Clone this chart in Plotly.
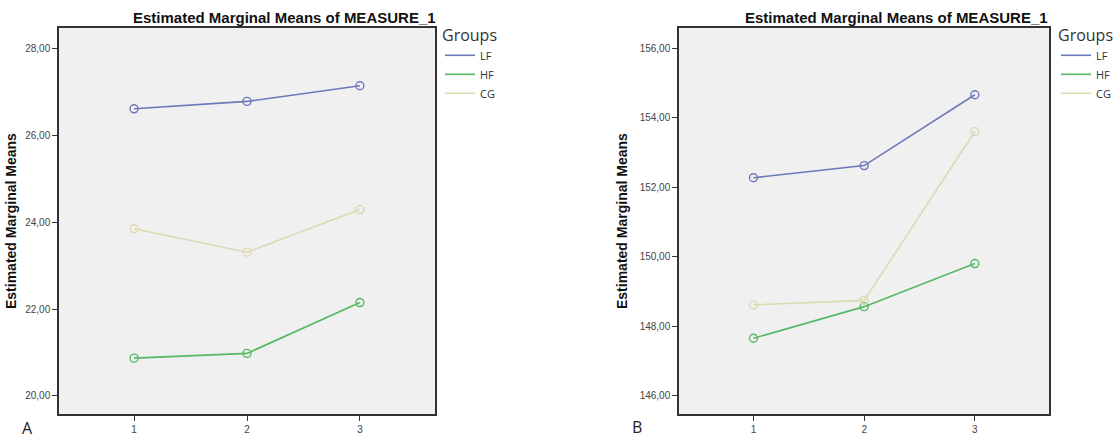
import plotly.graph_objects as go

# ---- data ----
time_points = [1, 2, 3]
groups = ["LF", "HF", "CG"]

# Panel A
a_lf = [26.61, 26.78, 27.14]
a_hf = [20.87, 20.98, 22.15]
a_cg = [23.85, 23.31, 24.29]
a_ticks = [20, 22, 24, 26, 28]

# Panel B
b_lf = [152.27, 152.62, 154.66]
b_hf = [147.65, 148.56, 149.80]
b_cg = [148.61, 148.74, 153.60]
b_ticks = [146, 148, 150, 152, 154, 156]

panel_labels = ["A", "B"]
title_text = "Estimated Marginal Means of MEASURE_1"
ytitle_text = "Estimated Marginal Means"
legend_title = "Groups"

colors = {"LF": "#6b78ba", "HF": "#55b865", "CG": "#dcd9b2"}

W, H = 1120, 441
def px_x(p):
    return p / W
def px_y(p):
    return (H - p) / H

fig = go.Figure()

panels = [
    ("x", "y", "legend", {"LF": a_lf, "HF": a_hf, "CG": a_cg}),
    ("x2", "y2", "legend2", {"LF": b_lf, "HF": b_hf, "CG": b_cg}),
]

for xa, ya, lg, series in panels:
    for g in groups:
        fig.add_trace(go.Scatter(
            x=time_points, y=series[g], xaxis=xa, yaxis=ya,
            mode="lines+markers", name=g, showlegend=False,
            line=dict(color=colors[g], width=1.6),
            marker=dict(symbol="circle-open", size=8,
                        line=dict(color=colors[g], width=1.4)),
            hoverinfo="x+y+name",
        ))
    for g in groups:
        fig.add_trace(go.Scatter(
            x=[None], y=[None], xaxis=xa, yaxis=ya, mode="lines", name=g,
            legend=lg, line=dict(color=colors[g], width=1.6), showlegend=True,
        ))

tickfont = dict(family="Liberation Sans, Arial, sans-serif", size=10, color="#444")
axis_common = dict(
    showgrid=False, zeroline=False, showline=True, linecolor="#333",
    linewidth=1.5, mirror=True, ticks="outside", ticklen=5, tickwidth=1.2,
    tickcolor="#333", tickfont=tickfont,
)

x1_dom = [px_x(59), px_x(435)]
x2_dom = [px_x(679), px_x(1049)]
y_dom = [px_y(414), px_y(28)]

legend_common = dict(
    xanchor="left", yanchor="top", bgcolor="rgba(0,0,0,0)",
    title=dict(text=legend_title, font=dict(family="Open Sans, sans-serif", size=16, color="#333")),
    font=dict(family="Open Sans, sans-serif", size=11, color="#333"),
    tracegroupgap=0, itemwidth=30,
)

fig.update_layout(
    width=W, height=H,
    margin=dict(l=0, r=0, t=0, b=0),
    paper_bgcolor="white", plot_bgcolor="#f0f0f0",
    separators=",.",
    xaxis=dict(domain=x1_dom, anchor="y", range=[0.335, 3.665],
               tickvals=time_points, **axis_common),
    yaxis=dict(domain=y_dom, anchor="x", range=[19.585, 28.47],
               tickvals=a_ticks, tickformat=".2f", **axis_common),
    xaxis2=dict(domain=x2_dom, anchor="y2", range=[0.327, 3.67],
                tickvals=time_points, **axis_common),
    yaxis2=dict(domain=y_dom, anchor="x2", range=[145.47, 156.58],
                tickvals=b_ticks, tickformat=".2f", **axis_common),
    legend=dict(x=px_x(440), y=px_y(20), **legend_common),
    legend2=dict(x=px_x(1056), y=px_y(20), **legend_common),
)

titlefont = dict(family="Liberation Sans, Arial, sans-serif", size=15, color="#111")
yfont = dict(family="Liberation Sans, Arial, sans-serif", size=14, color="#111")
labfont = dict(family="Open Sans, sans-serif", size=16, color="#222")

annotations = []
for right_px, ylab_px, lab_px, lab_y, lab in [(438, 11, 27, 428, panel_labels[0]),
                                             (1050, 622, 637, 427, panel_labels[1])]:
    annotations.append(dict(
        text="<b>%s</b>" % title_text, xref="paper", yref="paper",
        x=px_x(right_px), y=px_y(17), xanchor="right", yanchor="middle",
        showarrow=False, font=titlefont))
    annotations.append(dict(
        text="<b>%s</b>" % ytitle_text, xref="paper", yref="paper",
        x=px_x(ylab_px), y=px_y(221), xanchor="center", yanchor="middle",
        textangle=-90, showarrow=False, font=yfont))
    annotations.append(dict(
        text=lab, xref="paper", yref="paper",
        x=px_x(lab_px), y=px_y(lab_y), xanchor="center", yanchor="middle",
        showarrow=False, font=labfont))

fig.update_layout(annotations=annotations)

fig.write_html("out.html", config={"displayModeBar": False},
               post_script="document.body.style.margin='0px';")
